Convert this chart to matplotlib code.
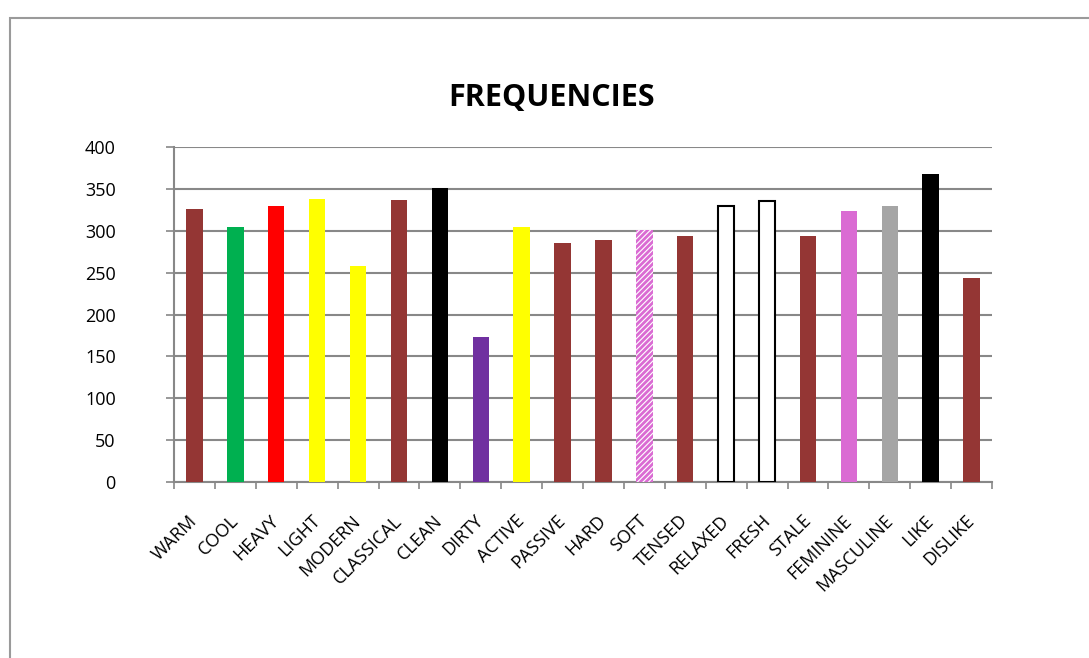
import numpy as np
import matplotlib.pyplot as plt
from matplotlib.patches import Rectangle

categorias = ['WARM', 'COOL', 'HEAVY', 'LIGHT', 'MODERN', 'CLASSICAL', 'CLEAN',
              'DIRTY', 'ACTIVE', 'PASSIVE', 'HARD', 'SOFT', 'TENSED', 'RELAXED',
              'FRESH', 'STALE', 'FEMININE', 'MASCULINE', 'LIKE', 'DISLIKE']
frecuencias = [326, 304, 329, 338, 258, 337, 351, 173, 304, 285,
               289, 301, 294, 329, 335, 294, 324, 329, 368, 244]
colores = ['#943634', '#00B050', '#FF0000', '#FFFF00', '#FFFF00', '#943634', '#000000',
           '#7030A0', '#FFFF00', '#943634', '#943634', 'white', '#943634', 'white',
           'white', '#943634', '#DA6BD3', '#A5A5A5', '#000000', '#943634']
yticks = [0, 50, 100, 150, 200, 250, 300, 350, 400]

plt.rcParams['font.family'] = ['Open Sans', 'DejaVu Sans']
plt.rcParams['hatch.linewidth'] = 2.0

fig = plt.figure(figsize=(10.89, 6.58), dpi=100)
fig.patches.append(Rectangle((10/1089, -0.1), 1.2, 1 - 18/658 + 0.1, transform=fig.transFigure,
                             fill=False, edgecolor='#9a9a9a', lw=1.5))

ax = fig.add_axes([174/1089, 1 - 482/658, 818/1089, 335/658])
x = np.arange(len(categorias))
barras = ax.bar(x, frecuencias, width=0.4, color=colores, zorder=3)
for i, b in enumerate(barras):
    if categorias[i] == 'SOFT':
        b.set_hatch('//////')
        b.set_edgecolor('#DA6BD3')
        b.set_linewidth(0)
    elif colores[i] == 'white':
        b.set_edgecolor('black')
        b.set_linewidth(1.5)

ax.set_xlim(-0.5, len(categorias) - 0.5)
ax.set_ylim(0, 400)
ax.set_yticks(yticks)
ax.set_yticklabels([str(v) for v in yticks], fontsize=13)
ax.yaxis.grid(True, color='#888888', lw=1.5, zorder=0)
ax.set_xticks(x)
ax.set_xticklabels(categorias, rotation=45, ha='right', va='center',
                   rotation_mode='anchor', fontsize=13)
ax.tick_params(axis='x', length=0, pad=26)
ax.set_xticks(np.arange(-0.5, len(categorias)), minor=True)
ax.tick_params(axis='x', which='minor', length=5, color='#888888', width=1.2)
ax.tick_params(axis='y', length=6, color='#888888', width=1.2, pad=36)
for s in ['top', 'right']:
    ax.spines[s].set_visible(False)
for s in ['left', 'bottom']:
    ax.spines[s].set_color('#888888')
    ax.spines[s].set_linewidth(1.5)

fig.text(552/1089, 1 - 98/658, 'FREQUENCIES', ha='center', va='center',
         fontsize=22, fontweight='bold')

fig.savefig('out.png', dpi=100)
